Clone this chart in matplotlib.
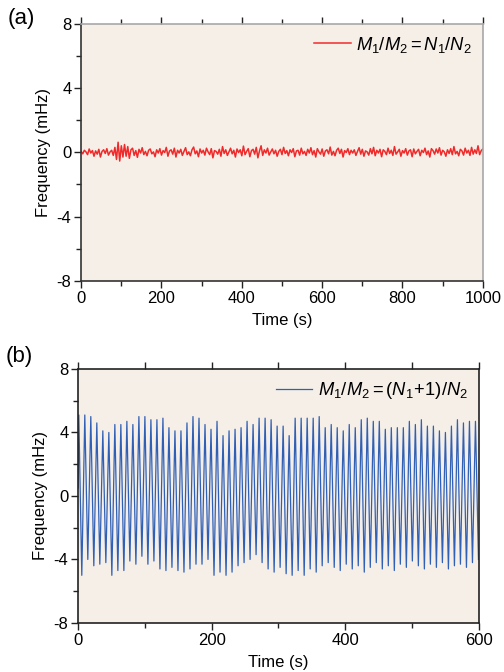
import numpy as np
import matplotlib
matplotlib.use('Agg')
import matplotlib.pyplot as plt
from matplotlib.ticker import MultipleLocator

plt.rcParams['font.family'] = ['Liberation Sans', 'DejaVu Sans']
plt.rcParams['mathtext.fontset'] = 'custom'
plt.rcParams['mathtext.rm'] = 'Liberation Sans'
plt.rcParams['mathtext.it'] = 'Liberation Sans:italic'

# --> panel (a): beat frequency, M1/M2 = N1/N2 (mHz), 4 s steps over 1000 s
noise_a = [
    0.05, -0.10, 0.12, 0.02, -0.15, 0.20, -0.05, 0.10, -0.25, 0.08,
    -0.12, 0.18, -0.30, 0.05, 0.15, -0.08, 0.22, -0.18, 0.02, 0.12,
    -0.20, 0.30, -0.45, 0.62, -0.55, 0.40, -0.30, 0.48, -0.25, 0.35,
    -0.38, 0.15, 0.25, -0.20, 0.10, -0.32, 0.18, -0.05, 0.28, -0.15,
    0.05, -0.22, 0.12, 0.20, -0.10, 0.02, -0.28, 0.15, -0.05, 0.22,
    -0.18, 0.10, -0.02, 0.30, -0.25, 0.08, 0.15, -0.12, 0.25, -0.30,
    0.12, -0.05, 0.18, -0.20, 0.05, 0.28, -0.15, 0.02, -0.22, 0.15,
    0.32, -0.10, 0.08, -0.28, 0.20, -0.05, 0.12, -0.18, 0.25, 0.02,
    -0.15, 0.22, -0.35, 0.10, 0.05, -0.12, 0.18, -0.25, 0.35, -0.08,
    0.15, -0.20, 0.02, 0.25, -0.10, 0.12, -0.30, 0.20, -0.02, 0.15,
    -0.22, 0.38, -0.15, 0.05, 0.22, -0.28, 0.10, 0.18, -0.12, 0.30,
    -0.35, 0.08, 0.40, -0.20, 0.15, -0.05, 0.25, -0.18, 0.02, 0.20,
    -0.10, 0.12, -0.25, 0.05, 0.18, -0.15, 0.30, -0.08, 0.10, -0.22,
    0.15, -0.02, 0.22, -0.28, 0.08, 0.12, -0.18, 0.25, -0.10, 0.05,
    -0.20, 0.18, -0.05, 0.28, -0.15, 0.10, -0.30, 0.22, 0.02, -0.12,
    0.20, -0.25, 0.08, 0.15, -0.10, 0.32, -0.18, 0.05, -0.22, 0.12,
    0.25, -0.08, 0.18, -0.30, 0.10, -0.02, 0.22, -0.15, 0.12, -0.05,
    0.15, -0.20, 0.05, 0.28, -0.12, 0.18, -0.25, 0.08, 0.02, -0.18,
    0.22, -0.10, 0.30, -0.22, 0.12, -0.05, 0.18, -0.28, 0.15, 0.05,
    -0.15, 0.25, -0.08, 0.12, -0.20, 0.35, -0.12, 0.02, 0.18, -0.25,
    0.10, -0.05, 0.22, -0.18, 0.08, 0.15, -0.28, 0.20, -0.10, 0.05,
    0.18, -0.22, 0.12, -0.02, 0.25, -0.15, 0.08, -0.30, 0.22, 0.10,
    -0.12, 0.20, -0.05, 0.28, -0.18, 0.12, 0.02, -0.25, 0.15, -0.08,
    0.22, -0.15, 0.35, -0.10, 0.05, -0.22, 0.18, 0.08, -0.18, 0.25,
    -0.05, 0.12, -0.20, 0.30, -0.12, 0.15, -0.08, 0.40, -0.15, 0.10,
    0.20,
]
time_a = np.linspace(0, 1000, len(noise_a))

# --> panel (b): beat frequency, M1/M2 = (N1+1)/N2, peaks and troughs (mHz)
peaks_b = [
    5.1, 5.1, 5.0, 4.6, 4.1, 4.0, 4.5, 4.5, 4.7, 4.5,
    5.0, 5.0, 4.8, 4.8, 4.9, 4.3, 4.1, 4.1, 4.6, 5.0,
    4.9, 4.5, 4.2, 4.7, 3.8, 4.1, 4.2, 4.3, 4.7, 4.5,
    4.9, 4.9, 4.8, 4.4, 4.4, 3.8, 4.9, 4.9, 4.9, 4.9,
    5.0, 4.3, 4.5, 4.3, 4.1, 4.5, 4.3, 4.8, 4.9, 4.7,
    4.7, 4.2, 4.3, 4.3, 4.3, 4.7, 4.5, 4.8, 4.4, 4.4,
    4.1, 4.0, 4.4, 4.8, 4.6, 4.7, 4.7,
]
troughs_b = [
    -5.0, -4.0, -4.4, -4.3, -4.2, -5.0, -4.7, -4.7, -4.1, -4.3,
    -3.8, -4.3, -4.1, -4.6, -4.7, -4.5, -4.7, -4.8, -4.6, -4.3,
    -4.3, -4.0, -5.0, -4.8, -5.0, -4.8, -4.4, -4.2, -4.0, -3.7,
    -4.2, -4.6, -4.8, -4.5, -4.9, -5.0, -4.7, -5.0, -4.6, -4.8,
    -4.4, -4.2, -4.5, -4.7, -4.3, -4.6, -4.4, -4.8, -4.5, -4.2,
    -4.6, -4.4, -4.7, -4.3, -4.5, -4.1, -4.4, -4.6, -4.3, -4.5,
    -4.2, -4.6, -4.4, -4.3, -4.5, -4.2, -4.0,
]
start_b = 0.5
period_b = 9.0  # s
first_peak_b = 1.0  # s

t_peak = first_peak_b + period_b * np.arange(len(peaks_b))
t_trough = t_peak + period_b / 2
time_b = np.concatenate([[0.0], np.column_stack([t_peak, t_trough]).ravel()])
freq_b = np.concatenate([[start_b], np.column_stack([peaks_b, troughs_b]).ravel()])

bg = '#f5efe8'
tick_fs = 12

fig = plt.figure(figsize=(5.04, 6.72), dpi=100)
ax1 = fig.add_axes([0.161, 0.582, 0.797, 0.383])
ax2 = fig.add_axes([0.155, 0.073, 0.795, 0.378])

# --> panel (a)
ax1.set_facecolor(bg)
ax1.plot(time_a, noise_a, color='#f02a2a', lw=1.1, label=r'$M_1/M_2 = N_1/N_2$')
ax1.set_xlim(0, 1000)
ax1.set_ylim(-8, 8)
ax1.xaxis.set_major_locator(MultipleLocator(200))
ax1.xaxis.set_minor_locator(MultipleLocator(100))
for s in ['left', 'bottom']:
    ax1.spines[s].set_color('#333333')
for s in ['top', 'right']:
    ax1.spines[s].set_color('#a8a8a8')
ax1.spines[:].set_linewidth(1.2)
ax1.tick_params(which='both', direction='out', top=True, right=False,
                labelsize=tick_fs, color='#222222', width=1.0, pad=2)
ax1.tick_params(which='major', length=5)
ax1.tick_params(which='minor', length=3.5)

# --> panel (b)
ax2.set_facecolor(bg)
ax2.plot(time_b, freq_b, color='#3060b5', lw=0.9, label=r'$M_1/M_2 = (N_1\!+\!1)/N_2$')
ax2.set_xlim(0, 600)
ax2.set_ylim(-8, 8)
ax2.xaxis.set_major_locator(MultipleLocator(200))
ax2.xaxis.set_minor_locator(MultipleLocator(100))
ax2.spines[:].set_color('#222222')
ax2.spines[:].set_linewidth(1.2)
ax2.tick_params(which='both', direction='out', top=False, right=False,
                labelsize=tick_fs, color='#222222', width=1.0, pad=2)
ax2.tick_params(which='major', length=5)
ax2.tick_params(which='minor', length=3.5)
top2 = ax2.secondary_xaxis('top')
top2.xaxis.set_major_locator(MultipleLocator(100))
top2.tick_params(direction='out', length=5, width=1.0, color='#222222', labeltop=False)
top2.spines['top'].set_visible(False)

for ax in (ax1, ax2):
    ax.yaxis.set_major_locator(MultipleLocator(4))
    ax.yaxis.set_minor_locator(MultipleLocator(2))
    ax.set_yticks([8, 4, 0, -4, -8])
    ax.set_yticklabels(['8', '4', '0', '-4', '-8'])
    ax.set_xlabel('Time (s)', fontsize=12, labelpad=5)
    ax.set_ylabel('Frequency (mHz)', fontsize=12, labelpad=4)
    leg = ax.legend(loc='upper right', frameon=False, fontsize=13.2,
                    handlelength=2.0, handletextpad=0.3, borderaxespad=0.2)

fig.text(0.016, 0.972, '(a)', fontsize=16, va='center', ha='left')
fig.text(0.012, 0.47, '(b)', fontsize=16, va='center', ha='left')

fig.savefig('out.png', dpi=100)
